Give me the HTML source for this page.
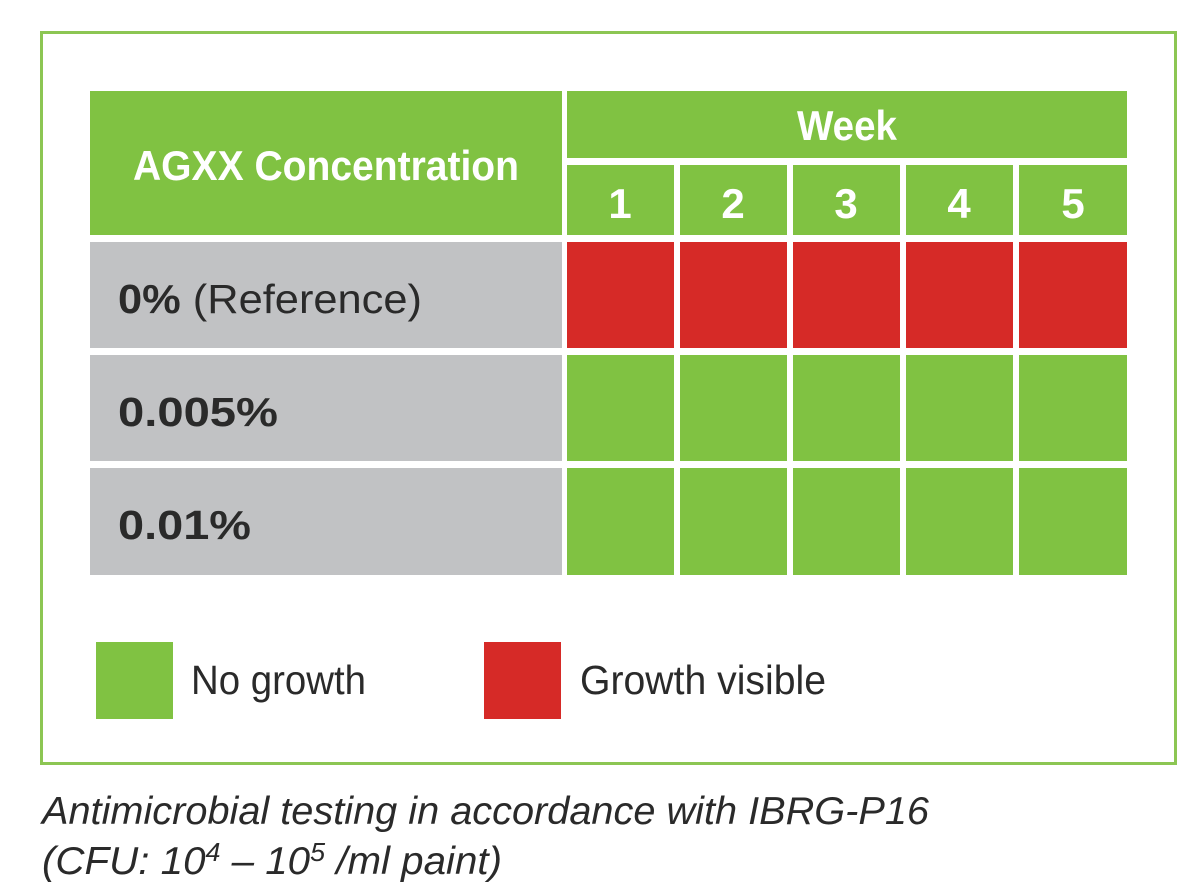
<!DOCTYPE html>
<html><head><meta charset="utf-8"><style>
html,body{margin:0;padding:0;background:#fff;width:1200px;height:894px;overflow:hidden}
svg{display:block}
text{font-family:"Liberation Sans",sans-serif}
</style></head><body>
<svg width="1200" height="894" viewBox="0 0 1200 894">
<rect x="41.5" y="32.5" width="1134" height="731" fill="#fff" stroke="#8cc653" stroke-width="3"/>
<rect x="90" y="91" width="472" height="144" fill="#80c242"/>
<rect x="567" y="91" width="560" height="67" fill="#80c242"/>
<g fill="#80c242">
<rect x="567" y="165" width="107" height="70"/>
<rect x="680" y="165" width="107" height="70"/>
<rect x="793" y="165" width="107" height="70"/>
<rect x="906" y="165" width="107" height="70"/>
<rect x="1019" y="165" width="108" height="70"/>
</g>
<g fill="#fff" font-weight="bold" font-size="42" text-anchor="middle">
<text x="326" y="180" textLength="386" lengthAdjust="spacingAndGlyphs">AGXX Concentration</text>
<text x="847" y="140" textLength="100" lengthAdjust="spacingAndGlyphs">Week</text>
<text x="620" y="218">1</text><text x="733" y="218">2</text><text x="846" y="218">3</text><text x="959" y="218">4</text><text x="1073" y="218">5</text>
</g>
<g fill="#c1c2c4">
<rect x="90" y="242" width="472" height="106"/>
<rect x="90" y="355" width="472" height="106"/>
<rect x="90" y="468" width="472" height="107"/>
</g>
<g fill="#d62a27">
<rect x="567" y="242" width="107" height="106"/><rect x="680" y="242" width="107" height="106"/><rect x="793" y="242" width="107" height="106"/><rect x="906" y="242" width="107" height="106"/><rect x="1019" y="242" width="108" height="106"/>
</g>
<g fill="#80c242">
<rect x="567" y="355" width="107" height="106"/><rect x="680" y="355" width="107" height="106"/><rect x="793" y="355" width="107" height="106"/><rect x="906" y="355" width="107" height="106"/><rect x="1019" y="355" width="108" height="106"/>
<rect x="567" y="468" width="107" height="107"/><rect x="680" y="468" width="107" height="107"/><rect x="793" y="468" width="107" height="107"/><rect x="906" y="468" width="107" height="107"/><rect x="1019" y="468" width="108" height="107"/>
</g>
<g fill="#2a2a2a" font-size="41">
<text x="118" y="313" textLength="304" lengthAdjust="spacingAndGlyphs"><tspan font-weight="bold">0%</tspan> (Reference)</text>
<text x="118" y="426" font-weight="bold" textLength="160" lengthAdjust="spacingAndGlyphs">0.005%</text>
<text x="118" y="539" font-weight="bold" textLength="133" lengthAdjust="spacingAndGlyphs">0.01%</text>
</g>
<rect x="96" y="642" width="77" height="77" fill="#80c242"/>
<rect x="484" y="642" width="77" height="77" fill="#d62a27"/>
<g fill="#2a2a2a" font-size="41">
<text x="191" y="694" textLength="175" lengthAdjust="spacingAndGlyphs">No growth</text>
<text x="580" y="694" textLength="246" lengthAdjust="spacingAndGlyphs">Growth visible</text>
</g>
<g fill="#2a2a2a" font-size="39" font-style="italic">
<text x="42" y="824" textLength="887" lengthAdjust="spacingAndGlyphs">Antimicrobial testing in accordance with IBRG-P16</text>
<text x="42" y="874" textLength="460" lengthAdjust="spacingAndGlyphs">(CFU: 10<tspan font-size="26" dy="-13">4</tspan><tspan dy="13"> – 10</tspan><tspan font-size="26" dy="-13">5</tspan><tspan dy="13"> /ml paint)</tspan></text>
</g>
</svg>
</body></html>
